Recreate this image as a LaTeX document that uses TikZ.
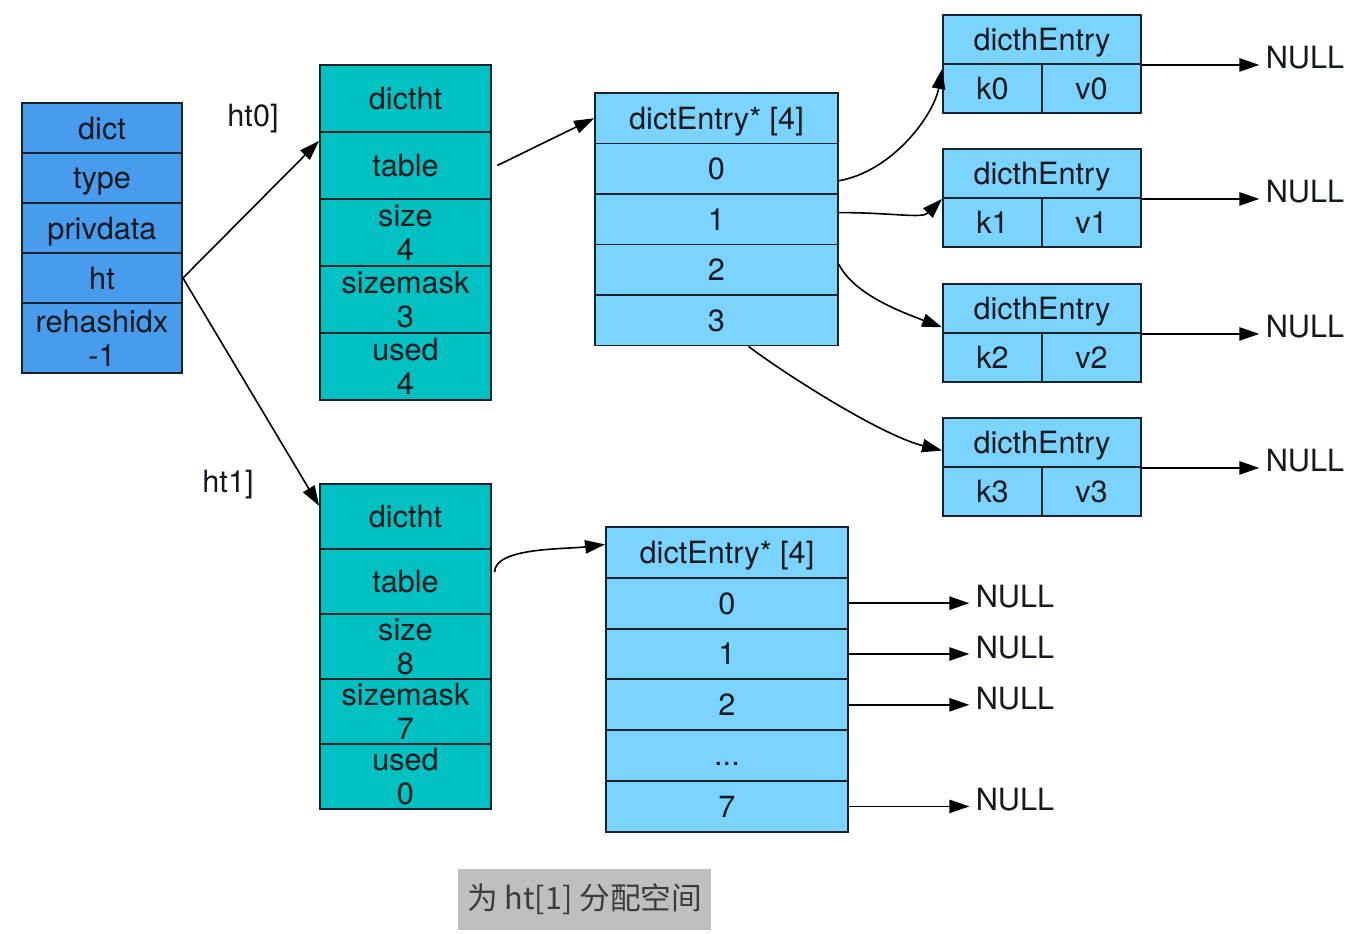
\documentclass[tikz,border=0pt]{standalone}
\usepackage{fontspec}
\setmainfont{TeX Gyre Heros}
\newfontfamily\cjk{Noto Sans CJK SC}
\usetikzlibrary{arrows.meta}

\tikzset{every picture/.style={line width=0.75pt}}
\tikzset{
	cell/.style={draw={rgb, 255:red, 25; green, 35; blue, 45}, line width=1.4pt, inner sep=0pt, align=center, text depth=0pt, font=\fontsize{23}{25.5}\selectfont, text={rgb, 255:red, 20; green, 25; blue, 30}},
	dictcell/.style={cell, fill={rgb, 255:red, 72; green, 156; blue, 238}, minimum width=120pt, minimum height=37.5pt},
	htcell/.style={cell, fill={rgb, 255:red, 0; green, 193; blue, 193}, minimum width=128.25pt},
	tabcell/.style={cell, fill={rgb, 255:red, 123; green, 212; blue, 255}},
	entcell/.style={cell, fill={rgb, 255:red, 123; green, 212; blue, 255}, minimum height=36.75pt},
	txt/.style={inner sep=0.75pt, font=\fontsize{23}{25.5}\selectfont, text={rgb, 255:red, 20; green, 25; blue, 30}},
	ptr/.style={line width=1.2pt, -{Triangle[length=15pt,width=10pt]}}
}

\begin{document}
\begin{tikzpicture}[x=0.75pt,y=0.75pt,yscale=-1,xscale=1]
	\useasboundingbox (0,0) rectangle (1354,933);
	
	%Shape: dict
	\node [dictcell] (dict-name) at (102,128) {dict};
	\node [dictcell] (dict-type) at (102,178) {type};
	\node [dictcell] (dict-priv) at (102,228) {privdata};
	\node [dictcell] (dict-ht) at (102,278) {ht};
	\node [dictcell, minimum height=52.5pt] (dict-rehash) at (102,338) {rehashidx\\-1};
	
	%Shape: dictht ht[0]
	\node [htcell, minimum height=50.25pt] (dhA-head) at (405.5,98.5) {dictht};
	\node [htcell, minimum height=50.25pt] (dhA-table) at (405.5,165.5) {table};
	\node [htcell, minimum height=50.25pt] (dhA-size) at (405.5,232.5) {size\\4};
	\node [htcell, minimum height=50.25pt] (dhA-mask) at (405.5,299.5) {sizemask\\3};
	\node [htcell, minimum height=50.25pt] (dhA-used) at (405.5,366.5) {used\\4};
	
	%Shape: dictht ht[1]
	\node [htcell, minimum height=48.75pt] (dhB-head) at (405.5,516.5) {dictht};
	\node [htcell, minimum height=48.75pt] (dhB-table) at (405.5,581.5) {table};
	\node [htcell, minimum height=48.75pt] (dhB-size) at (405.5,646.5) {size\\8};
	\node [htcell, minimum height=48.75pt] (dhB-mask) at (405.5,711.5) {sizemask\\7};
	\node [htcell, minimum height=48.75pt] (dhB-used) at (405.5,776.5) {used\\0};
	
	%Shape: table of ht[0]
	\node [tabcell, minimum width=182.25pt, minimum height=37.875pt] (tabA-head) at (716.5,118.25) {dictEntry* [4]};
	\node [tabcell, minimum width=182.25pt, minimum height=37.875pt] (tabA-0) at (716.5,168.75) {0};
	\node [tabcell, minimum width=182.25pt, minimum height=37.875pt] (tabA-1) at (716.5,219.25) {1};
	\node [tabcell, minimum width=182.25pt, minimum height=37.875pt] (tabA-2) at (716.5,269.75) {2};
	\node [tabcell, minimum width=182.25pt, minimum height=37.875pt] (tabA-3) at (716.5,320.25) {3};
	
	%Shape: table of ht[1]
	\node [tabcell, minimum width=181.5pt, minimum height=38.1pt] (tabB-head) at (727,552.4) {dictEntry* [4]};
	\node [tabcell, minimum width=181.5pt, minimum height=38.1pt] (tabB-0) at (727,603.2) {0};
	\node [tabcell, minimum width=181.5pt, minimum height=38.1pt] (tabB-1) at (727,654) {1};
	\node [tabcell, minimum width=181.5pt, minimum height=38.1pt] (tabB-2) at (727,704.8) {2};
	\node [tabcell, minimum width=181.5pt, minimum height=38.1pt, align=none, text height=15pt] (tabB-dots) at (727,755.6) {...};
	\node [tabcell, minimum width=181.5pt, minimum height=38.1pt] (tabB-7) at (727,806.4) {7};
	
	%Shape: entries
	\node [entcell, minimum width=148.5pt] (entA-head) at (1042,39.5) {dicthEntry};
	\node [entcell, minimum width=74.25pt] (entA-k) at (992.5,88.5) {k0};
	\node [entcell, minimum width=74.25pt] (entA-v) at (1091.5,88.5) {v0};
	\node [entcell, minimum width=148.5pt] (entB-head) at (1042,173.5) {dicthEntry};
	\node [entcell, minimum width=74.25pt] (entB-k) at (992.5,222.5) {k1};
	\node [entcell, minimum width=74.25pt] (entB-v) at (1091.5,222.5) {v1};
	\node [entcell, minimum width=148.5pt] (entC-head) at (1042,308.5) {dicthEntry};
	\node [entcell, minimum width=74.25pt] (entC-k) at (992.5,357.5) {k2};
	\node [entcell, minimum width=74.25pt] (entC-v) at (1091.5,357.5) {v2};
	\node [entcell, minimum width=148.5pt] (entD-head) at (1042,442.5) {dicthEntry};
	\node [entcell, minimum width=74.25pt] (entD-k) at (992.5,491.5) {k3};
	\node [entcell, minimum width=74.25pt] (entD-v) at (1091.5,491.5) {v3};
	
	% Text Node
	\node [txt] (lblA) at (253,119) {ht0]};
	% Text Node
	\node [txt] (lblB) at (228,485) {ht1]};
	% Text Node
	\node [txt, inner sep=4.5pt] (nullA) at (1305,58) {NULL};
	% Text Node
	\node [txt, inner sep=4.5pt] (nullB) at (1305,192) {NULL};
	% Text Node
	\node [txt, inner sep=4.5pt] (nullC) at (1305,327) {NULL};
	% Text Node
	\node [txt, inner sep=4.5pt] (nullD) at (1305,461) {NULL};
	% Text Node
	\node [txt, inner sep=4.5pt] (nullE) at (1015,597) {NULL};
	% Text Node
	\node [txt, inner sep=4.5pt] (nullF) at (1015,648) {NULL};
	% Text Node
	\node [txt, inner sep=4.5pt] (nullG) at (1015,699) {NULL};
	% Text Node
	\node [txt, inner sep=4.5pt] (nullH) at (1015,800) {NULL};
	
	%Straight Lines
	\draw [ptr] (dict-ht.east) -- ([yshift=6pt]dhA-head.south west);
	\draw [ptr] (dict-ht.east) -- ([yshift=-8pt]dhB-head.west);
	\draw [ptr] ([xshift=4pt]dhA-table.east) -- (tabA-head.west);
	%Curve Lines
	\draw [ptr] ([xshift=2pt,yshift=-7pt]dhB-table.east) .. controls +(0,-25) and +(-40,5) .. ([yshift=-6pt]tabB-head.west);
	\draw [ptr] ([yshift=9pt]tabA-0.east) .. controls +(55,-10) and +(-8,45) .. ([yshift=3pt]entA-head.south west);
	\draw [ptr] ([yshift=-5pt]tabA-1.east) .. controls +(55,0) and +(-20,20) .. (entB-head.south west);
	\draw [ptr] ([yshift=-4pt]tabA-2.east) .. controls +(15,30) and +(-40,-15) .. ([yshift=-5pt]entC-head.south west);
	\draw [ptr] ([xshift=24pt]tabA-3.south) .. controls +(40,30) and +(-60,-15) .. ([yshift=6pt]entD-head.west);
	
	%Straight Lines to NULL
	\draw [ptr] (entA-head.south east) -- (entA-head.south east -| nullA.west);
	\draw [ptr] (entB-head.south east) -- (entB-head.south east -| nullB.west);
	\draw [ptr] (entC-head.south east) -- (entC-head.south east -| nullC.west);
	\draw [ptr] (entD-head.south east) -- (entD-head.south east -| nullD.west);
	\draw [ptr] (tabB-0.east) -- (tabB-0.east -| nullE.west);
	\draw [ptr] (tabB-1.east) -- (tabB-1.east -| nullF.west);
	\draw [ptr] (tabB-2.east) -- (tabB-2.east -| nullG.west);
	\draw [ptr] (tabB-7.east) -- (tabB-7.east -| nullH.west);
	
	% Text Node
	\node [txt, fill={rgb, 255:red, 191; green, 191; blue, 191}, minimum width=189.75pt, minimum height=45.75pt, text={rgb, 255:red, 60; green, 60; blue, 60}] (caption) at (584.5,899.5) {\cjk 为 ht[1] 分配空间};
	
\end{tikzpicture}
\end{document}
